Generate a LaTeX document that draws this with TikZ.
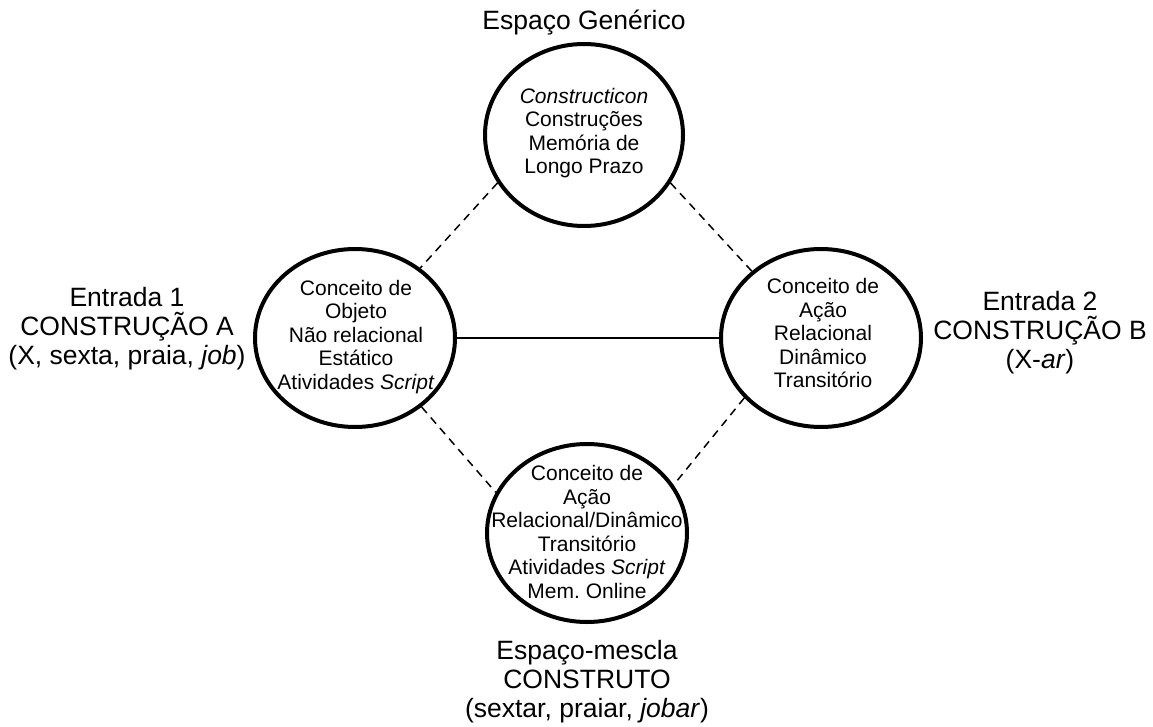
\documentclass[tikz,border=0pt]{standalone}
\usepackage{fontspec}
\setmainfont{Liberation Sans}
\usetikzlibrary{shapes.geometric}
\begin{document}
\begin{tikzpicture}[x=1pt,y=-1pt,
  space/.style={ellipse, draw, line width=4pt, inner sep=0pt,
    minimum width=200pt, minimum height=178pt},
  innertext/.style={align=center, inner sep=0pt,
    font=\fontsize{21}{23.5}\selectfont},
  outertext/.style={align=center, inner sep=0pt,
    font=\fontsize{26.5}{29}\selectfont},
  mapping/.style={line width=1.5pt, dash pattern=on 8pt off 6pt},
  crossmap/.style={line width=1.8pt}
]
\useasboundingbox (0,0) rectangle (1153,727);

% the four mental spaces (circles drawn empty, contents set on top)
\node[space, minimum width=198pt, minimum height=182pt] (gen) at (584,135) {};
\node[space] (in1) at (355,338) {};
\node[space] (in2) at (821,338) {};
\node[space] (blend) at (587,533) {};

\node[innertext] (gentext) at (584,133)
  {\textit{Constructicon}\\Construções\\Memória de\\Longo Prazo};
\node[innertext] (in1text) at (356,337)
  {Conceito de\\Objeto\\Não relacional\\Estático\\Atividades \textit{Script}};
\node[innertext] (in2text) at (823,333)
  {Conceito de\\Ação\\Relacional\\Dinâmico\\Transitório};
\node[innertext] (blendtext) at (587,532)
  {Conceito de\\Ação\\Relacional/Dinâmico\\Transitório\\Atividades \textit{Script}\\Mem.\ Online};

% space names
\node[outertext, anchor=base] (genname) at (584,30) {Espaço Genérico};
\node[outertext] (in1name) at (127,329)
  {Entrada 1\\CONSTRUÇÃO A\\(X, sexta, praia, \textit{job})};
\node[outertext] (in2name) at (1040,332.5)
  {Entrada 2\\CONSTRUÇÃO B\\(X-\textit{ar})};
\node[outertext] (blendname) at (587,682)
  {Espaço-mescla\\CONSTRUTO\\(sextar, praiar, \textit{jobar})};

% projections between spaces
\draw[mapping] (gen.209) -- (in1.47);
\draw[mapping] (gen.331) -- (in2.136);
\draw[mapping] (in1.314) -- (blend.156);
\draw[mapping] (in2.218) -- (blend.29);

% cross-space mapping between the inputs
\draw[crossmap] (in1.east) -- (in2.west);
\end{tikzpicture}
\end{document}
